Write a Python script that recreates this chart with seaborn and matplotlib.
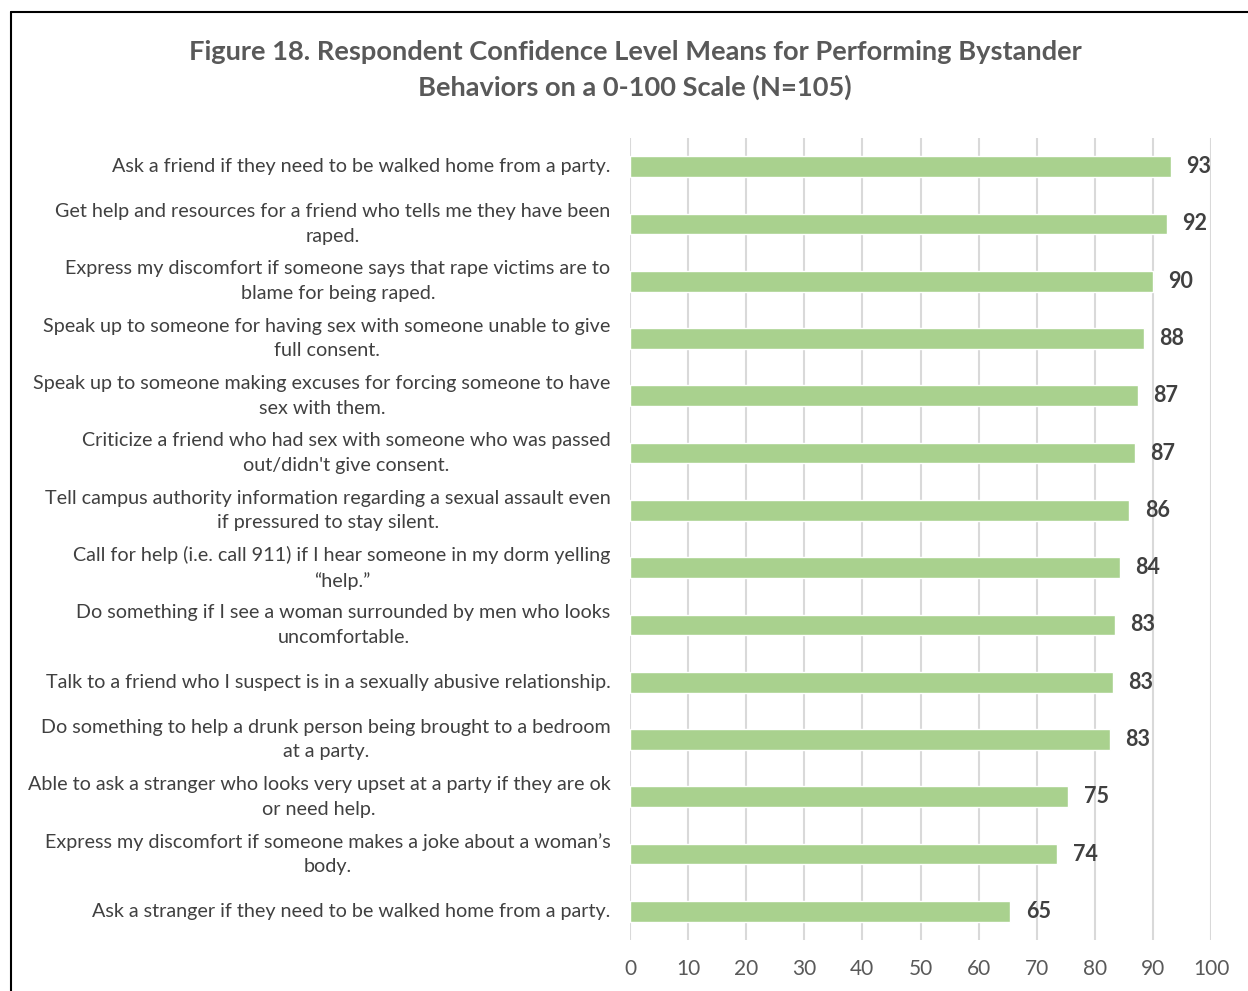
import pandas as pd
import seaborn as sns
import matplotlib.pyplot as plt

behaviors = [
    "Ask a friend if they need to be walked home from a party.",
    "Get help and resources for a friend who tells me they have been\nraped.",
    "Express my discomfort if someone says that rape victims are to\nblame for being raped.",
    "Speak up to someone for having sex with someone unable to give\nfull consent.",
    "Speak up to someone making excuses for forcing someone to have\nsex with them.",
    "Criticize a friend who had sex with someone who was passed\nout/didn't give consent.",
    "Tell campus authority information regarding a sexual assault even\nif pressured to stay silent.",
    "Call for help (i.e. call 911) if I hear someone in my dorm yelling\n\u201chelp.\u201d",
    "Do something if I see a woman surrounded by men who looks\nuncomfortable.",
    "Talk to a friend who I suspect is in a sexually abusive relationship.",
    "Do something to help a drunk person being brought to a bedroom\nat a party.",
    "Able to ask a stranger who looks very upset at a party if they are ok\nor need help.",
    "Express my discomfort if someone makes a joke about a woman\u2019s\nbody.",
    "Ask a stranger if they need to be walked home from a party.",
]
means = [93.1, 92.4, 90.0, 88.4, 87.4, 86.9, 85.9, 84.3, 83.4, 83.1, 82.6, 75.4, 73.5, 65.4]
xticks = [0, 10, 20, 30, 40, 50, 60, 70, 80, 90, 100]

df = pd.DataFrame({"behavior": behaviors, "mean": means})

sns.set_theme(style="white")
plt.rcParams["font.family"] = ["Lato", "DejaVu Sans"]

fig = plt.figure(figsize=(12.48, 9.91), dpi=100)
ax = fig.add_axes([630 / 1248, 1 - 940 / 991, 581 / 1248, (940 - 138) / 991])

sns.barplot(data=df, x="mean", y="behavior", color="#A9D18E", saturation=1,
            width=0.36, ax=ax, zorder=3)

ax.set_xlim(0, 100)
ax.set_ylim(13.5, -0.5)
ax.set_xticks(xticks)
ax.set_xticklabels([str(t) for t in xticks])
ax.grid(axis="x", color="#D9D9D9", linewidth=1.5, zorder=0)
for s in ax.spines.values():
    s.set_visible(False)
ax.set_xlabel("")
ax.set_ylabel("")
ax.tick_params(axis="x", length=0, pad=14, labelsize=15, labelcolor="#595959")
ax.tick_params(axis="y", length=0, pad=14, labelsize=14.2, labelcolor="#404040")
for lab in ax.get_yticklabels():
    lab.set_multialignment("center")
    lab.set_linespacing(1.55)
    lab.set_verticalalignment("center")

for i, v in enumerate(means):
    ax.text(v + 2.7, i, f"{round(v):.0f}", va="center", ha="left",
            fontsize=15.5, fontweight="bold", color="#404040")

fig.text(635 / 1248, 1 - 70 / 991,
         "Figure 18. Respondent Confidence Level Means for Performing Bystander\nBehaviors on a 0-100 Scale (N=105)",
         ha="center", va="center", fontsize=19.6, fontweight="bold", color="#595959",
         linespacing=1.5)

# chart border (left and top edges visible)
fig.add_artist(plt.Line2D([11 / 1248, 11 / 1248], [0, 1 - 12 / 991], color="black", linewidth=1.5))
fig.add_artist(plt.Line2D([11 / 1248, 1], [1 - 12 / 991, 1 - 12 / 991], color="black", linewidth=1.5))

fig.savefig("out.png", dpi=100, facecolor="white")
